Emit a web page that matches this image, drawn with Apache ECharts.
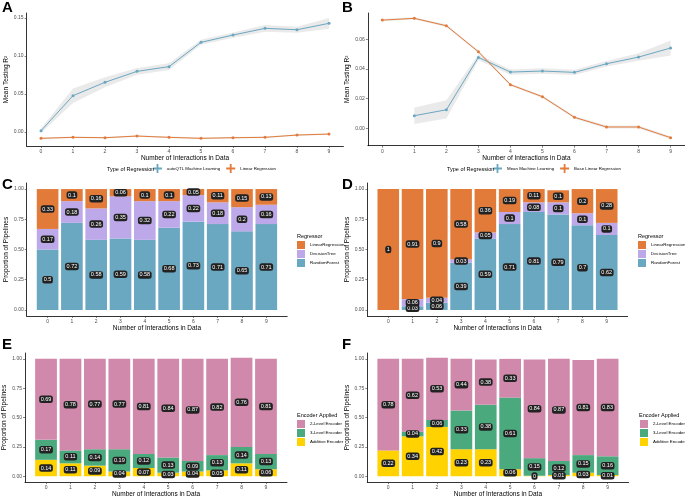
<!DOCTYPE html>
<html><head><meta charset="utf-8">
<script src="https://cdn.jsdelivr.net/npm/echarts@6/dist/echarts.min.js"></script>
<style>html,body{margin:0;padding:0;background:#fff}#c{width:685px;height:499px}</style>
</head><body><div id="c"></div>
<script>
// ---------- data ----------
const interactions = [0,1,2,3,4,5,6,7,8,9];

// Panel A: Mean Testing R^2
const aAutoQTL   = [0.0017,0.0478,0.0654,0.0798,0.0860,0.1180,0.1276,0.1364,0.1346,0.1430];
const aAutoQTLLo = [-0.0013,0.0383,0.0588,0.0754,0.0816,0.1147,0.1241,0.1320,0.1306,0.1360];
const aAutoQTLHi = [0.0047,0.0573,0.0720,0.0842,0.0904,0.1213,0.1311,0.1408,0.1386,0.1500];
const aLinear    = [-0.0083,-0.0070,-0.0075,-0.0053,-0.0070,-0.0083,-0.0075,-0.0070,-0.0040,-0.0027];
const aLinearLo  = [-0.0093,-0.0080,-0.0085,-0.0063,-0.0080,-0.0093,-0.0085,-0.0080,-0.0050,-0.0037];
const aLinearHi  = [-0.0073,-0.0060,-0.0065,-0.0043,-0.0060,-0.0073,-0.0065,-0.0060,-0.0030,-0.0017];

// Panel B
const bMeanML    = [null,0.0085,0.0125,0.0478,0.0379,0.0386,0.0377,0.0435,0.0480,0.0541];
const bMeanMLLo  = [null,0.0029,0.0067,0.0458,0.0361,0.0368,0.0359,0.0417,0.0455,0.0491];
const bMeanMLHi  = [null,0.0141,0.0190,0.0498,0.0397,0.0404,0.0395,0.0453,0.0505,0.0591];
const bBaseLin   = [0.0729,0.0741,0.0691,0.0516,0.0294,0.0213,0.0074,0.0009,0.0009,-0.0063];
const bBaseLinLo = [0.0721,0.0733,0.0683,0.0508,0.0286,0.0205,0.0065,-0.0001,-0.0001,-0.0072];
const bBaseLinHi = [0.0737,0.0749,0.0699,0.0524,0.0302,0.0221,0.0083,0.0019,0.0019,-0.0054];

// Panel C: regressor proportions (autoQTL)
const cRandomForest     = [0.50,0.72,0.58,0.59,0.58,0.68,0.73,0.71,0.65,0.71];
const cDecisionTree     = [0.17,0.18,0.26,0.35,0.32,0.22,0.22,0.18,0.20,0.16];
const cLinearRegression = [0.33,0.10,0.16,0.06,0.10,0.10,0.05,0.11,0.15,0.13];

// Panel D: regressor proportions (mean)
const dRandomForest     = [null,0.03,0.06,0.39,0.59,0.71,0.81,0.79,0.70,0.62];
const dDecisionTree     = [null,0.06,0.04,0.03,0.05,0.10,0.08,0.10,0.10,0.10];
const dLinearRegression = [1,0.91,0.90,0.58,0.36,0.19,0.11,0.10,0.20,0.28];

// Panel E: encoder proportions (autoQTL)
const eAdditive   = [0.14,0.11,0.09,0.04,0.07,0.03,0.04,0.05,0.11,0.06];
const eThreeLevel = [0.17,0.11,0.14,0.19,0.12,0.13,0.09,0.13,0.14,0.13];
const eTwoLevel   = [0.69,0.78,0.77,0.77,0.81,0.84,0.87,0.82,0.76,0.81];

// Panel F: encoder proportions (mean)
const fAdditive   = [0.22,0.34,0.42,0.23,0.23,0.06,0.004,0.01,0.03,0.01];
const fThreeLevel = [null,0.04,0.06,0.33,0.38,0.61,0.15,0.12,0.15,0.16];
const fTwoLevel   = [0.78,0.62,0.53,0.44,0.384,0.33,0.84,0.87,0.81,0.83];

const lineTicksA = [0,0.05,0.10,0.15];
const lineTicksB = [0,0.02,0.04,0.06];
const propTicks  = [0,0.25,0.50,0.75,1.00];

// ---------- style ----------
const C_BLUE='#6aa7c1', C_ORANGE='#e27b3a', C_PURPLE='#bda9ea';
const C_PINK='#d088ab', C_GREEN='#4aaa7e', C_YELLOW='#ffd200';
const BAND='rgba(200,200,200,0.38)';
const FONT='Liberation Sans, Arial, sans-serif';
const PLUS='path://M4,0H6V4H10V6H6V10H4V6H0V4H4Z';

const pairs = arr => interactions.map((x,i)=>[x, arr[i]]);
// value first, position second, so that stacking happens on the value (y) dimension
const vpairs = arr => interactions.map((x,i)=>[arr[i], x]);
const fmt2 = v => v.toFixed(2);

function xAxis(gi, min, max, nameGap){
  return {gridIndex:gi,type:'value',min,max,
    axisLine:{onZero:false,lineStyle:{color:'#000',width:0.8}},
    axisTick:{customValues:interactions,length:2,lineStyle:{color:'#333',width:0.6}},
    axisLabel:{customValues:interactions,fontSize:5,color:'#4d4d4d',margin:3,fontFamily:FONT},
    splitLine:{show:false},
    name:'Number of Interactions in Data',nameLocation:'middle',nameGap:nameGap,
    nameTextStyle:{fontSize:6.5,color:'#000',fontFamily:FONT}};
}
function yAxis(gi, min, max, ticks, name, nameGap){
  return {gridIndex:gi,type:'value',min,max,
    axisLine:{show:true,onZero:false,lineStyle:{color:'#000',width:0.8}},
    axisTick:{show:true,customValues:ticks,length:2,lineStyle:{color:'#333',width:0.6}},
    axisLabel:{customValues:ticks,fontSize:5,color:'#4d4d4d',margin:3,formatter:fmt2,fontFamily:FONT},
    splitLine:{show:false},
    name:name,nameLocation:'middle',nameGap:nameGap,
    nameTextStyle:{fontSize:6.5,color:'#000',fontFamily:FONT}};
}
function band(gi, lo, hi){
  return {type:'custom',xAxisIndex:gi,yAxisIndex:gi,silent:true,z:1,clip:false,
    data:[[0,0]],encode:{x:0,y:1},
    renderItem:(params,api)=>{
      const pts=[];
      interactions.forEach((x,i)=>{ if(hi[i]!=null) pts.push(api.coord([x,hi[i]])); });
      for(let i=interactions.length-1;i>=0;i--) if(lo[i]!=null) pts.push(api.coord([interactions[i],lo[i]]));
      return {type:'polygon',shape:{points:pts},style:{fill:BAND}};
    }};
}
function line(gi, name, arr, color){
  return {type:'line',name,xAxisIndex:gi,yAxisIndex:gi,data:pairs(arr),z:3,
    symbol:'circle',symbolSize:3,showSymbol:true,connectNulls:false,
    lineStyle:{color,width:1},itemStyle:{color}};
}
const barLabel = {show:true,position:'inside',fontSize:5.5,color:'#fff',fontFamily:FONT,
  backgroundColor:'#222',borderRadius:2.5,padding:[1,1.5,0.5,1.5],
  formatter:p=>String(Math.round(p.value[0]*100)/100)};
function bar(gi, name, arr, color, stack){
  return {type:'bar',name,xAxisIndex:gi,yAxisIndex:gi,stack,data:vpairs(arr),
    encode:{x:1,y:0},
    barWidth:'89%',itemStyle:{color},label:barLabel,labelLayout:{hideOverlap:false}};
}

const grids=[
  {left:26.6,top:13,width:316.8,height:133},
  {left:367.9,top:13,width:317.1,height:132.7},
  {left:26.7,top:183,width:260.5,height:133},
  {left:367.4,top:183,width:260.2,height:133},
  {left:25,top:353,width:262,height:134},
  {left:367.3,top:353,width:261.3,height:134}
];

const titles=[
  ['A',2,0],['B',342,0],['C',2,177],['D',342,177],['E',2,337],['F',342,337]
].map(([t,l,tp])=>({text:t,left:l,top:tp,padding:0,textStyle:{fontSize:15,fontWeight:'bold',color:'#000',fontFamily:FONT}}));
[['Type of Regression',107,166],['Type of Regression',447,166],
 ['Regressor',297,233],['Regressor',638,233],
 ['Encoder Applied',297,412],['Encoder Applied',639,412]].forEach(([t,l,tp])=>{
  titles.push({text:t,left:l,top:tp,padding:0,textStyle:{fontSize:5.5,fontWeight:'normal',color:'#000',fontFamily:FONT}});
});

const legTxt={fontSize:4.4,color:'#000',fontFamily:FONT};
const legends=[
  {left:153,top:164,padding:0,icon:PLUS,itemWidth:9,itemHeight:9,itemGap:6,textStyle:legTxt,data:['autoQTL Machine Learning','Linear Regression']},
  {left:493,top:164,padding:0,icon:PLUS,itemWidth:9,itemHeight:9,itemGap:6,textStyle:legTxt,data:['Mean Machine Learning','Base Linear Regression']},
  {orient:'vertical',left:297,top:241,padding:0,icon:'rect',itemWidth:8,itemHeight:8,itemGap:1,textStyle:legTxt,data:['LinearRegression','DecisionTree','RandomForest']},
  {orient:'vertical',left:638,top:241,padding:0,icon:'rect',itemWidth:8,itemHeight:8,itemGap:1,textStyle:legTxt,data:['LinearRegression','DecisionTree','RandomForest']},
  {orient:'vertical',left:297,top:420,padding:0,icon:'rect',itemWidth:8,itemHeight:8,itemGap:1,textStyle:legTxt,data:['2-Level Encoder','3-Level Encoder','Additive Encoder']},
  {orient:'vertical',left:640,top:420,padding:0,icon:'rect',itemWidth:8,itemHeight:8,itemGap:1,textStyle:legTxt,data:['2-Level Encoder','3-Level Encoder','Additive Encoder']}
];

const option={
  animation:false,
  backgroundColor:'#fff',
  title:titles,
  legend:legends,
  grid:grids,
  xAxis:[xAxis(0,-0.45,9.45,8),xAxis(1,-0.45,9.45,8),
         xAxis(2,-0.86,9.86,9),xAxis(3,-0.86,9.86,9),
         xAxis(4,-0.86,9.86,8),xAxis(5,-0.86,9.86,8)],
  yAxis:[yAxis(0,-0.0184,0.1566,lineTicksA,'Mean Testing R²',17),
         yAxis(1,-0.0117,0.0777,lineTicksB,'Mean Testing R²',17),
         yAxis(2,-0.05,1.05,propTicks,'Proportion of Pipelines',17),
         yAxis(3,-0.05,1.05,propTicks,'Proportion of Pipelines',17),
         yAxis(4,-0.05,1.05,propTicks,'Proportion of Pipelines',17),
         yAxis(5,-0.05,1.05,propTicks,'Proportion of Pipelines',17)],
  series:[
    band(0,aAutoQTLLo,aAutoQTLHi), band(0,aLinearLo,aLinearHi),
    line(0,'autoQTL Machine Learning',aAutoQTL,C_BLUE),
    line(0,'Linear Regression',aLinear,C_ORANGE),
    band(1,bMeanMLLo,bMeanMLHi), band(1,bBaseLinLo,bBaseLinHi),
    line(1,'Mean Machine Learning',bMeanML,C_BLUE),
    line(1,'Base Linear Regression',bBaseLin,C_ORANGE),
    bar(2,'RandomForest',cRandomForest,C_BLUE,'c'),
    bar(2,'DecisionTree',cDecisionTree,C_PURPLE,'c'),
    bar(2,'LinearRegression',cLinearRegression,C_ORANGE,'c'),
    bar(3,'RandomForest',dRandomForest,C_BLUE,'d'),
    bar(3,'DecisionTree',dDecisionTree,C_PURPLE,'d'),
    bar(3,'LinearRegression',dLinearRegression,C_ORANGE,'d'),
    bar(4,'Additive Encoder',eAdditive,C_YELLOW,'e'),
    bar(4,'3-Level Encoder',eThreeLevel,C_GREEN,'e'),
    bar(4,'2-Level Encoder',eTwoLevel,C_PINK,'e'),
    bar(5,'Additive Encoder',fAdditive,C_YELLOW,'f'),
    bar(5,'3-Level Encoder',fThreeLevel,C_GREEN,'f'),
    bar(5,'2-Level Encoder',fTwoLevel,C_PINK,'f')
  ]
};
const chart=echarts.init(document.getElementById('c'),null,{renderer:'canvas'});
chart.setOption(option);
</script></body></html>
